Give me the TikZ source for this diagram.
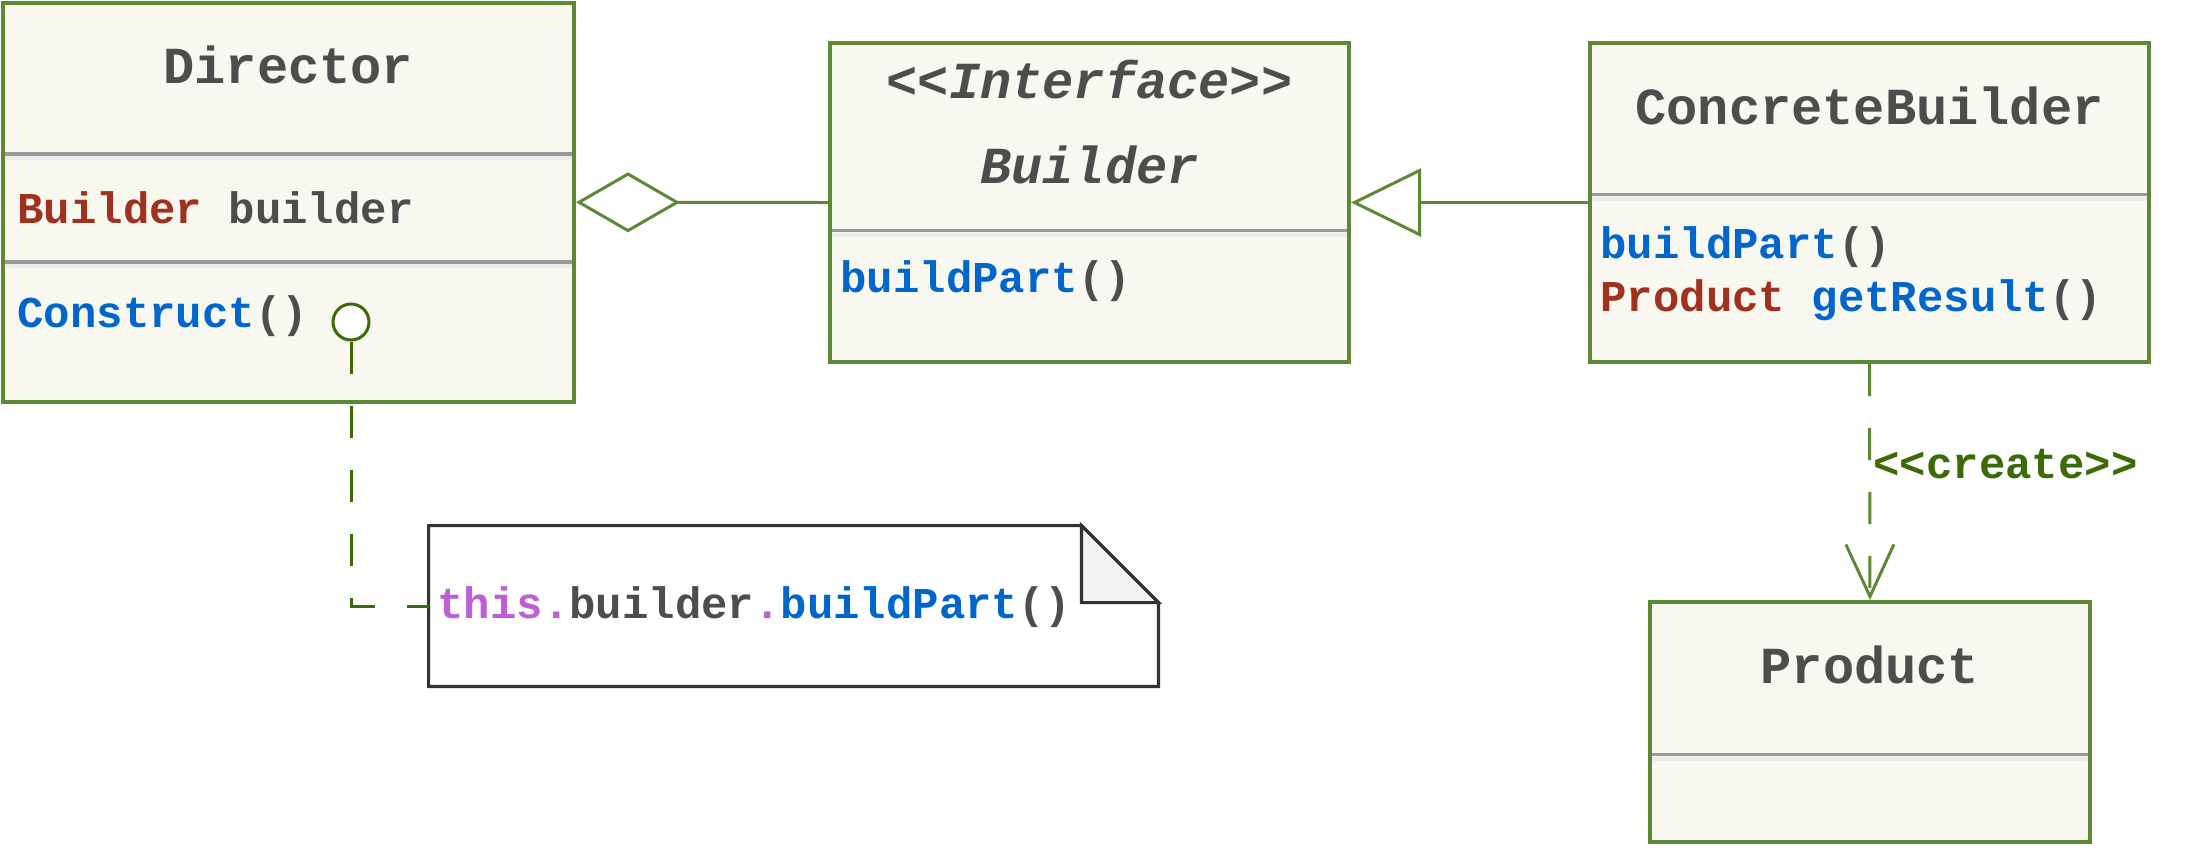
\documentclass[tikz,border=0pt]{standalone}
\usepackage{fontspec}
\setmonofont{Liberation Mono}
\usetikzlibrary{arrows.meta}

\definecolor{boxgreen}{HTML}{5E8934}
\definecolor{linkgreen}{HTML}{3B6B06}
\definecolor{boxfill}{HTML}{F8F8F1}
\definecolor{inkgray}{HTML}{4D4D4D}
\definecolor{typered}{HTML}{A0311F}
\definecolor{callblue}{HTML}{0066CC}
\definecolor{kwpurple}{HTML}{BF5FD6}
\definecolor{sepdarkc}{HTML}{999999}
\definecolor{seplightc}{HTML}{EBEBEB}
\definecolor{notefold}{HTML}{F4F4F4}
\definecolor{noteline}{HTML}{333333}

\newcommand\umltype[1]{\textcolor{typered}{#1}}
\newcommand\umlcall[1]{\textcolor{callblue}{#1}}
\newcommand\umlkw[1]{\textcolor{kwpurple}{#1}}

\tikzset{
  classbox/.style={draw=boxgreen, line width=2pt, fill=boxfill, inner sep=0pt},
  titletext/.style={font=\ttfamily\bfseries\fontsize{26}{30}\selectfont, text=inkgray, inner sep=0pt, anchor=base},
  titleitalic/.style={titletext, font=\ttfamily\bfseries\itshape\fontsize{26}{30}\selectfont},
  membertext/.style={font=\ttfamily\bfseries\fontsize{22}{26}\selectfont, text=inkgray, inner sep=0pt, anchor=base west},
  createlabel/.style={membertext, text=linkgreen},
  sepdark/.style={draw=sepdarkc, line width=1.6pt},
  seplight/.style={draw=seplightc, line width=2pt},
  assoc/.style={draw=boxgreen, line width=1.5pt},
  createlink/.style={draw=boxgreen, line width=1.5pt, dash pattern=on 16pt off 16pt},
  notelink/.style={draw=linkgreen, line width=1.5pt, dash pattern=on 16pt off 16pt},
  noteborder/.style={draw=noteline, line width=1.6pt, line join=miter},
}

% compartment separator: gray rule with a pale rule beneath it
\newcommand\umlsep[3]{%
  \draw[sepdark] (#1,#3) -- (#2,#3);
  \draw[seplight] (#1,#3+4) -- (#2,#3+4);}

\begin{document}
\begin{tikzpicture}[x=0.5pt,y=-0.5pt]
\useasboundingbox (0,0) rectangle (2192,848);

% class boxes
\node[classbox, minimum width=285.75pt, minimum height=199.75pt] (director) at (288.25,202.25) {};
\node[classbox, minimum width=259.5pt, minimum height=159.5pt] (builder) at (1089.5,202.5) {};
\node[classbox, minimum width=279.5pt, minimum height=159.5pt] (concrete) at (1869.5,202.5) {};
\node[classbox, minimum width=220pt, minimum height=120pt] (product) at (1870,722) {};

% compartments
\umlsep{4.5}{572}{154}
\umlsep{4.5}{572}{262}
\umlsep{832}{1347}{230.5}
\umlsep{1592}{2147}{194.5}
\umlsep{1652}{2088}{754.5}

% Director
\node[titletext] (dirtitle) at (288.25,83) {Director};
\node[membertext] (dirfield) at (17,223) {\umltype{Builder} builder};
\node[membertext] (dirop) at (17,327) {\umlcall{Construct}()};

% Builder interface
\node[titleitalic] (bstereo) at (1089.5,98) {<<Interface>>};
\node[titleitalic] (btitle) at (1089.5,183) {Builder};
\node[membertext] (bop) at (840,292) {\umlcall{buildPart}()};

% ConcreteBuilder
\node[titletext] (cbtitle) at (1869.5,124) {ConcreteBuilder};
\node[membertext] (cbop1) at (1600,258) {\umlcall{buildPart}()};
\node[membertext] (cbop2) at (1600,311) {\umltype{Product} \umlcall{getResult}()};

% Product
\node[titletext] (ptitle) at (1870,683) {Product};

% note with folded corner
\node[minimum width=364.5pt, minimum height=80pt, inner sep=0pt] (note) at (793.5,606) {};
\draw[noteborder, fill=white] (note.south west) -- (note.north west)
  -- ([xshift=-38.5pt]note.north east) -- ([yshift=-38.5pt]note.north east)
  -- (note.south east) -- cycle;
\draw[noteborder, fill=notefold] ([xshift=-38.5pt]note.north east)
  -- ([xshift=-38.5pt,yshift=-38.5pt]note.north east)
  -- ([yshift=-38.5pt]note.north east) -- cycle;
\node[membertext] (notetext) at (437,618) {\umlkw{this.}builder\umlkw{.}\umlcall{buildPart}()};

% connectors
\draw[assoc, {Diamond[open,length=52pt,width=30pt]}-] (director.east) -- (builder.west);
\draw[assoc, -{Triangle[open,length=35pt,width=34pt]}] (concrete.west) -- (builder.east);
\draw[createlink, -{Straight Barb[length=26pt,width=24pt]}] (concrete.south) -- (product.north);
\node[createlabel] (createlbl) at (1873,478) {<<create>>};

\node[circle, draw=linkgreen, line width=1.5pt, fill=white, minimum size=18pt, inner sep=0pt] (hook) at (351,322) {};
\draw[notelink] (hook.south) |- (note.west);

\end{tikzpicture}
\end{document}
